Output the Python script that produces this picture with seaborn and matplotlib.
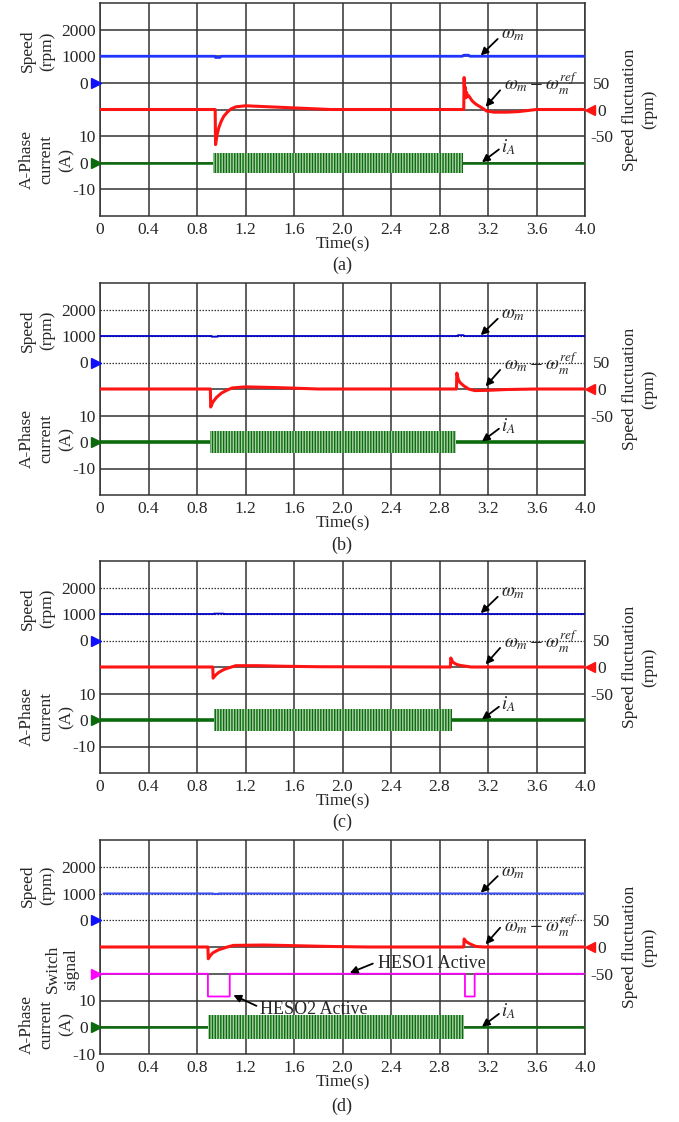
import matplotlib
matplotlib.use('Agg')
import matplotlib.pyplot as plt
import matplotlib.transforms as mtransforms
import seaborn as sns

sns.set_theme(style='white')
plt.rcParams['font.family'] = ['Liberation Serif', 'DejaVu Serif']
plt.rcParams['mathtext.fontset'] = 'stix'
plt.rcParams['hatch.linewidth'] = 1.0

# ------------------------- data -------------------------
panel_names = ['(a)', '(b)', '(c)', '(d)']
time_ticks = [0, 0.4, 0.8, 1.2, 1.6, 2.0, 2.4, 2.8, 3.2, 3.6, 4.0]
time_tick_labels = ['0', '0.4', '0.8', '1.2', '1.6', '2.0', '2.4', '2.8', '3.2', '3.6', '4.0']
speed_ticks = [0, 1000, 2000]
current_ticks = [-10, 0, 10]
fluct_ticks = [-50, 0, 50]

# motor speed (rpm)
speed_a_t = [0, 0.95, 0.952, 0.99, 1.0, 2.99, 3.0, 3.04, 3.05, 4.0]
speed_a = [1000, 1000, 955, 955, 1000, 1000, 1040, 1040, 1000, 1000]
speed_b_t = [0, 0.92, 0.921, 0.97, 0.971, 2.95, 2.951, 3.0, 3.001, 4.0]
speed_b = [1000, 1000, 975, 975, 1000, 1000, 1030, 1030, 1000, 1000]
speed_c_t = [0, 0.94, 0.941, 1.02, 1.021, 4.0]
speed_c = [1000, 1000, 1015, 1015, 1000, 1000]
speed_d_t = [0.03, 0.93, 0.931, 0.98, 0.981, 4.0]
speed_d = [1000, 1000, 985, 985, 1000, 1000]

# speed fluctuation (rpm)
fl_a_t = [0, 0.95, 0.953, 0.965, 0.98, 1.0, 1.02, 1.05, 1.08, 1.12, 1.2, 1.3, 1.5, 1.7, 1.9,
          3.0, 3.003, 3.008, 3.013, 3.018, 3.024, 3.03, 3.04, 3.07, 3.1, 3.15, 3.19, 3.25,
          3.35, 3.45, 3.6, 4.0]
fl_a = [0, 0, -66, -48, -34, -22, -13, -5, 1, 5, 7, 6, 4, 2, 0,
        0, 60, 28, 42, 22, 32, 24, 26, 16, 10, 3, -3, -5,
        -5, -4, 0, 0]
fl_b_t = [0, 0.91, 0.913, 0.93, 0.96, 1.0, 1.04, 1.09, 1.2, 1.4, 1.55, 1.8,
          2.94, 2.943, 2.955, 2.97, 3.0, 3.04, 3.09, 3.2, 3.35, 3.6, 4.0]
fl_b = [0, 0, -34, -25, -16, -8, -3, 2, 4, 3, 2, 0,
        0, 30, 18, 12, 6, 0, -3, -2.5, -1, 0, 0]
fl_c_t = [0, 0.93, 0.933, 0.95, 0.98, 1.02, 1.05, 1.12, 1.3, 1.5, 1.8,
          2.89, 2.893, 2.91, 2.94, 2.97, 3.06, 4.0]
fl_c = [0, 0, -21, -16, -10, -5, -2.5, 2.5, 2.5, 1.5, 0.5,
        0, 17, 9, 5, 3, 0, 0]
fl_d_t = [0, 0.89, 0.893, 0.91, 0.93, 0.98, 1.05, 1.1, 1.35, 1.6, 1.9, 2.2,
          3.0, 3.003, 3.02, 3.05, 3.1, 3.17, 4.0]
fl_d = [0, 0, -22, -16, -11, -5, 0, 3, 3.7, 2.5, 1, 0,
        0, 15, 10, 6, 1, 0, 0]

# A-phase current: idle trace and loaded envelope (A)
cur_idle_t = [0, 4.0]
cur_idle = [0, 0]
load_on = [0.935, 0.91, 0.94, 0.89]
load_off = [2.99, 2.94, 2.90, 3.0]
current_peak = [3.8, 4.1, 4.2, 4.5]

# switch signal (panel d): 1 = HESO1 active, 0 = HESO2 active
sw_t = [0, 0.89, 0.8901, 1.07, 1.0701, 3.01, 3.0101, 3.09, 3.0901, 4.0]
sw = [1, 1, 0, 0, 1, 1, 0, 0, 1, 1]

speeds = [(speed_a_t, speed_a), (speed_b_t, speed_b), (speed_c_t, speed_c), (speed_d_t, speed_d)]
flucts = [(fl_a_t, fl_a), (fl_b_t, fl_b), (fl_c_t, fl_c), (fl_d_t, fl_d)]

# ------------------------- layout / style -------------------------
W, H = 679, 1122
fig = plt.figure(figsize=(W / 100, H / 100), dpi=100)
panel_px = [(3, 216), (283, 495), (561, 773), (840, 1054)]
label_y = [265, 545, 822, 1106]
blue_style = [('#1f35ff', 2.0), ('#0000c8', 1.3), ('#0000c8', 1.3), ('#3c4ef2', 1.5)]
idle_lw = [1.8, 2.6, 2.6, 1.8]
RED = '#ff1414'
GREEN = '#0b6a0b'
MAG = '#ff00ff'
FS = 12.5
zero_shift = mtransforms.ScaledTranslation(-0.08, 0, fig.dpi_scale_trans)


def line(ax, x, y, color, lw):
    sns.lineplot(x=x, y=y, ax=ax, color=color, lw=lw, estimator=None, sort=False,
                 legend=False)


def shift_zero_label(axis_obj, ticks):
    for lab, v in zip(axis_obj.get_yticklabels(), ticks):
        if v == 0:
            lab.set_transform(lab.get_transform() + zero_shift)


for k in range(4):
    top, bot = panel_px[k]
    ax = fig.add_axes([100 / W, 1 - bot / H, 485 / W, (bot - top) / H])
    ax.set_xlim(0, 4.0)
    ax.set_ylim(0, 8)
    ax.set_xticks(time_ticks)
    ax.set_xticklabels(time_tick_labels, fontsize=FS)
    ax.set_yticks([])
    ax.tick_params(axis='x', length=0, pad=4)
    ax.grid(axis='x', color='#333333', lw=1.1)
    ax.set_xlabel('Time(s)', fontsize=FS, labelpad=-1)
    for s in ax.spines.values():
        s.set_color('#333333')
        s.set_linewidth(1.1)
    for lv in range(1, 8):
        if k > 0 and lv >= 5:
            ax.axhline(lv, color='#333333', lw=0.9, ls=(0, (1.2, 1.2)))
        else:
            ax.axhline(lv, color='#333333', lw=1.1)

    cur_zero = 1 if k == 3 else 2
    # current axis
    ax_c = ax.twinx()
    ax_c.set_ylim(-10 * cur_zero, 10 * (8 - cur_zero))
    ax_c.yaxis.tick_left()
    ax_c.set_yticks(current_ticks)
    ax_c.set_yticklabels([str(v) for v in current_ticks], fontsize=FS)
    ax_c.tick_params(axis='y', length=0, pad=3)
    shift_zero_label(ax_c, current_ticks)
    for s in ax_c.spines.values():
        s.set_visible(False)
    line(ax_c, cur_idle_t, cur_idle, GREEN, idle_lw[k])
    ax_c.fill_between([load_on[k], load_off[k]], [-current_peak[k]] * 2, [current_peak[k]] * 2,
                      facecolor='#a9d2a9', edgecolor=GREEN, hatch='||||||', linewidth=0, zorder=3)

    # switch axis (d)
    if k == 3:
        ax_w = ax.twinx()
        ax_w.set_ylim(-2.15 / 0.85, 5.85 / 0.85)
        ax_w.set_yticks([])
        for s in ax_w.spines.values():
            s.set_visible(False)
        line(ax_w, sw_t, sw, MAG, 1.3)

    # speed fluctuation axis (right)
    ax_f = ax.twinx()
    ax_f.set_ylim(-200, 200)
    ax_f.set_yticks(fluct_ticks)
    ax_f.set_yticklabels([str(v) for v in fluct_ticks], fontsize=FS)
    ax_f.tick_params(axis='y', length=0, pad=12)
    for lab in ax_f.get_yticklabels():
        lab.set_horizontalalignment('center')
    for s in ax_f.spines.values():
        s.set_visible(False)
    line(ax_f, flucts[k][0], flucts[k][1], RED, 2.2)

    # speed axis (left)
    ax_s = ax.twinx()
    ax_s.set_ylim(-5000, 3000)
    ax_s.yaxis.tick_left()
    ax_s.set_yticks(speed_ticks)
    ax_s.set_yticklabels([str(v) for v in speed_ticks], fontsize=FS)
    ax_s.tick_params(axis='y', length=0, pad=3)
    shift_zero_label(ax_s, speed_ticks)
    for s in ax_s.spines.values():
        s.set_visible(False)
    line(ax_s, speeds[k][0], speeds[k][1], blue_style[k][0], blue_style[k][1])

    # overlay for markers, annotations and labels (level units)
    ov = ax.twinx()
    ov.set_ylim(0, 8)
    ov.set_yticks([])
    for s in ov.spines.values():
        s.set_visible(False)
    ov.plot([-0.035], [5], marker='>', ms=7, color='#1010ff', clip_on=False, ls='none')
    ov.plot([-0.035], [cur_zero], marker='>', ms=7, color=GREEN, clip_on=False, ls='none')
    ov.plot([4.045], [4], marker='<', ms=7, color=RED, clip_on=False, ls='none')
    if k == 3:
        ov.plot([-0.035], [3], marker='>', ms=7, color=MAG, clip_on=False, ls='none')

    arr = dict(arrowstyle='-|>', color='black', lw=1.3, mutation_scale=11, shrinkA=0, shrinkB=0)
    # omega_m
    ov.annotate('', xy=(3.14, 6.03), xytext=(3.28, 6.65), arrowprops=arr)
    ov.text(3.31, 6.8, r'$\omega_m$', fontsize=13.5, va='center', ha='left')
    # fluctuation
    ov.annotate('', xy=(3.18, 4.1), xytext=(3.3, 4.72), arrowprops=arr)
    ov.text(3.33, 4.95 if k < 3 else 4.8, r'$\omega_m - \omega_m^{ref}$', fontsize=13.5,
            va='center', ha='left')
    # i_A
    ia_tip = cur_zero + 0.02
    ov.annotate('', xy=(3.15, ia_tip), xytext=(3.29, ia_tip + 0.48), arrowprops=arr)
    ov.text(3.31, ia_tip + 0.58, r'$i_A$', fontsize=13.5, va='center', ha='left')
    if k == 3:
        ov.annotate('', xy=(2.06, 3.03), xytext=(2.25, 3.38), arrowprops=arr)
        ov.text(2.29, 3.4, 'HESO1 Active', fontsize=13, va='center', ha='left')
        ov.annotate('', xy=(1.10, 2.2), xytext=(1.29, 1.8), arrowprops=arr)
        ov.text(1.32, 1.68, 'HESO2 Active', fontsize=13, va='center', ha='left')

    tr = mtransforms.blended_transform_factory(ax.transAxes, ov.transData)
    ov.text(-0.128, 6.2 if k < 3 else 6.3, 'Speed\n(rpm)', transform=tr, rotation=90,
            ha='center', va='center', multialignment='center', fontsize=FS, linespacing=1.3)
    ov.text(-0.11, 2.12 if k < 3 else 1.12, 'A-Phase\ncurrent\n(A)', transform=tr, rotation=90,
            ha='center', va='center', multialignment='center', fontsize=FS, linespacing=1.35)
    if k == 3:
        ov.text(-0.078, 3.18, 'Switch\nsignal', transform=tr, rotation=90,
                ha='center', va='center', multialignment='center', fontsize=FS, linespacing=1.2)
    ov.text(1.113, 4.0, 'Speed fluctuation\n(rpm)', transform=tr, rotation=90,
            ha='center', va='center', multialignment='center', fontsize=FS, linespacing=1.3)

    fig.text(342 / W, 1 - label_y[k] / H, panel_names[k], ha='center', va='center', fontsize=13)

fig.savefig('out.png', dpi=100)
